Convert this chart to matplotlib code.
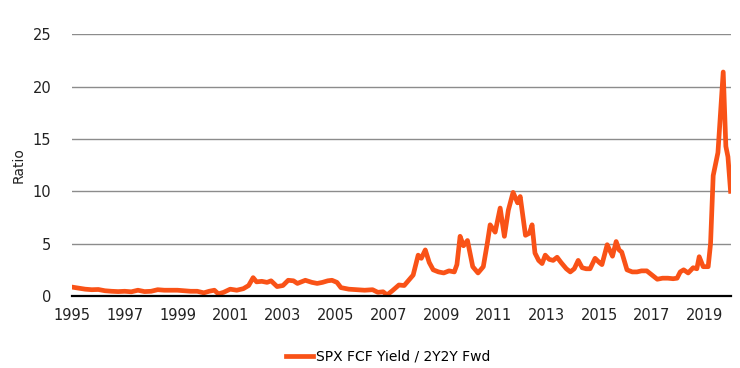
import matplotlib.pyplot as plt

years = [
    1995.00, 1995.25, 1995.50, 1995.75, 1996.00, 1996.25, 1996.50, 1996.75,
    1997.00, 1997.25, 1997.50, 1997.75, 1998.00, 1998.25, 1998.50, 1998.75,
    1999.00, 1999.25, 1999.50, 1999.75, 2000.00, 2000.20, 2000.40, 2000.55,
    2000.75, 2001.00, 2001.25, 2001.50, 2001.70, 2001.87, 2002.00, 2002.20,
    2002.40, 2002.55, 2002.78, 2003.00, 2003.20, 2003.40, 2003.55, 2003.85,
    2004.10, 2004.30, 2004.50, 2004.70, 2004.86, 2005.05, 2005.20, 2005.50,
    2005.80, 2006.10, 2006.40, 2006.60, 2006.80, 2006.95, 2007.15, 2007.40,
    2007.60, 2007.94, 2008.13, 2008.25, 2008.40, 2008.55, 2008.70, 2008.90,
    2009.10, 2009.30, 2009.50, 2009.60, 2009.72, 2009.85, 2010.00, 2010.20,
    2010.40, 2010.60, 2010.75, 2010.86, 2011.05, 2011.24, 2011.40, 2011.55,
    2011.73, 2011.90, 2012.00, 2012.20, 2012.35, 2012.45, 2012.56, 2012.70,
    2012.83, 2012.95, 2013.10, 2013.25, 2013.40, 2013.55, 2013.75, 2013.90,
    2014.05, 2014.20, 2014.35, 2014.50, 2014.65, 2014.84, 2015.00, 2015.10,
    2015.30, 2015.50, 2015.64, 2015.75, 2015.85, 2016.05, 2016.25, 2016.43,
    2016.60, 2016.80, 2017.00, 2017.20, 2017.40, 2017.60, 2017.80, 2017.95,
    2018.07, 2018.20, 2018.37, 2018.56, 2018.70, 2018.79, 2018.94, 2019.13,
    2019.22, 2019.32, 2019.50, 2019.70, 2019.80, 2019.88, 2019.98,
]
ratio = [
    0.85, 0.75, 0.65, 0.60, 0.62, 0.50, 0.45, 0.42,
    0.45, 0.40, 0.55, 0.42, 0.45, 0.60, 0.55, 0.55,
    0.55, 0.50, 0.45, 0.45, 0.30, 0.45, 0.55, 0.20,
    0.35, 0.65, 0.55, 0.70, 1.00, 1.75, 1.35, 1.40,
    1.30, 1.45, 0.90, 1.00, 1.50, 1.45, 1.20, 1.50,
    1.30, 1.20, 1.30, 1.45, 1.50, 1.30, 0.80, 0.65,
    0.60, 0.55, 0.60, 0.35, 0.40, 0.10, 0.50, 1.05,
    1.00, 2.00, 3.90, 3.60, 4.40, 3.20, 2.50, 2.30,
    2.20, 2.40, 2.30, 3.00, 5.70, 4.80, 5.30, 2.80,
    2.20, 2.80, 5.00, 6.80, 6.10, 8.40, 5.70, 8.20,
    9.90, 8.90, 9.50, 5.80, 6.00, 6.80, 4.10, 3.40,
    3.10, 3.90, 3.50, 3.40, 3.70, 3.20, 2.60, 2.30,
    2.60, 3.40, 2.70, 2.60, 2.60, 3.60, 3.20, 3.00,
    4.90, 3.80, 5.20, 4.40, 4.20, 2.50, 2.30, 2.30,
    2.40, 2.40, 2.00, 1.60, 1.70, 1.70, 1.65, 1.70,
    2.30, 2.50, 2.20, 2.70, 2.60, 3.75, 2.80, 2.80,
    5.00, 11.50, 13.70, 21.40, 14.30, 13.30, 10.00,
]
year_ticks = list(range(1995, 2020, 2))
y_ticks = [0, 5, 10, 15, 20, 25]

plt.rcParams['font.family'] = ['DejaVu Sans']

fig = plt.figure(figsize=(7.4, 3.68), dpi=100)
ax = fig.add_axes([0.0973, 0.1957, 0.8907, 0.711])

ax.plot(years, ratio, color='#F95217', linewidth=3.4, solid_joinstyle='round',
        label='SPX FCF Yield / 2Y2Y Fwd', zorder=3)

ax.set_xlim(1995, 2020)
ax.set_ylim(0, 25)
ax.set_xticks(year_ticks)
ax.set_yticks(y_ticks)
ax.tick_params(axis='both', length=0, labelsize=10.5, colors='#222222')
ax.tick_params(axis='x', pad=9)
ax.tick_params(axis='y', pad=15)

for s in ['top', 'right', 'left']:
    ax.spines[s].set_visible(False)
ax.spines['bottom'].set_color('black')
ax.spines['bottom'].set_linewidth(1.6)
ax.spines['bottom'].set_zorder(4)
ax.yaxis.grid(True, color='#8c8c8c', linewidth=1.0)
ax.set_axisbelow(True)

ax.set_ylabel('Ratio', fontsize=10, color='#222222')
ax.yaxis.set_label_coords(-0.071, 0.5)

fig.legend(loc='center', bbox_to_anchor=(388 / 740, 1 - 357 / 368), frameon=False,
           fontsize=10, handlelength=2.0, handletextpad=0.2)

fig.savefig('out.png', dpi=100)
